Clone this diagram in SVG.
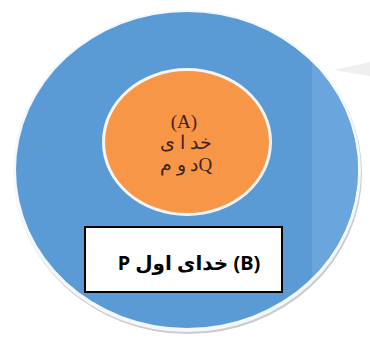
<svg xmlns="http://www.w3.org/2000/svg" width="370" height="342" viewBox="0 0 370 342">
<style>
.lbl{font-family:"Liberation Serif","DejaVu Serif",serif;fill:#3a2424;font-size:19px;text-anchor:middle}
.box{font-family:"Noto Sans","DejaVu Sans",sans-serif;font-weight:bold;font-size:20px;fill:#000;text-anchor:middle}
</style>
<defs>
<clipPath id="outerClip"><ellipse cx="187" cy="170" rx="171" ry="158"/></clipPath>
</defs>
<rect width="370" height="342" fill="#ffffff"/>
<path d="M334 70 L370 62 L370 76 Z" fill="#efefef"/>
<g id="nodeB">
<ellipse cx="188" cy="173" rx="174" ry="161" fill="#c9ccd4"/>
<ellipse cx="187" cy="171" rx="174" ry="161" fill="#f4f7fb"/>
<ellipse cx="187" cy="170" rx="171" ry="158" fill="#5b9bd5"/>
<rect x="312" y="0" width="60" height="342" fill="#6aa6dd" clip-path="url(#outerClip)"/>
</g>
<g id="nodeA">
<ellipse cx="187" cy="142" rx="85" ry="74" fill="#f4f4f4"/>
<ellipse cx="187" cy="142" rx="82" ry="71" fill="#f79646"/>
<text class="lbl" x="184" y="128">(A)</text>
<text class="lbl" x="186" y="149">خد ا ی</text>
<text class="lbl" x="186" y="171">د و مQ</text>
</g>
<g id="labelB">
<rect x="85" y="227" width="197" height="65" fill="#ffffff" stroke="#000" stroke-width="2"/>
<text class="box" x="189" y="270" direction="rtl" unicode-bidi="embed">(B) خدای اول P</text>
</g>
<g id="connectors"/>
</svg>
